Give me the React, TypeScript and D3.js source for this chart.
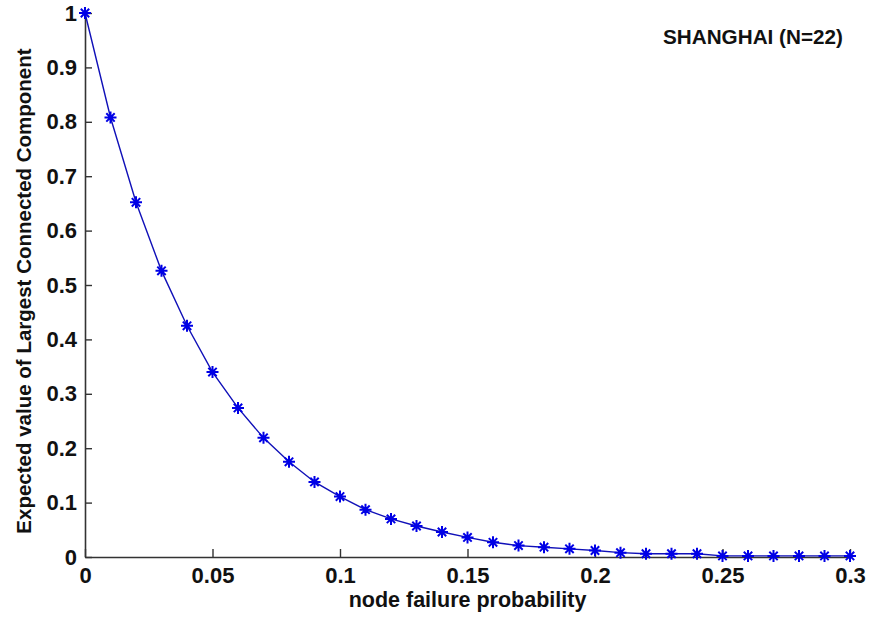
import React, { useRef, useEffect } from 'react';
import * as d3 from 'd3';

// node failure probability, step 0.01
const failureProb = [
  0, 0.01, 0.02, 0.03, 0.04, 0.05, 0.06, 0.07, 0.08, 0.09, 0.1,
  0.11, 0.12, 0.13, 0.14, 0.15, 0.16, 0.17, 0.18, 0.19, 0.2,
  0.21, 0.22, 0.23, 0.24, 0.25, 0.26, 0.27, 0.28, 0.29, 0.3,
];
// expected size of the largest connected component (fraction)
const expectedLcc = [
  1.0, 0.808, 0.652, 0.526, 0.425, 0.34, 0.274, 0.219, 0.175, 0.138, 0.111,
  0.087, 0.07, 0.057, 0.046, 0.036, 0.027, 0.021, 0.018, 0.015, 0.012,
  0.008, 0.006, 0.006, 0.006, 0.002, 0.002, 0.002, 0.002, 0.002, 0.002,
];
const xTicks = [0, 0.05, 0.1, 0.15, 0.2, 0.25, 0.3];
const xTickLabels = ['0', '0.05', '0.1', '0.15', '0.2', '0.25', '0.3'];
const yTicks = [0, 0.1, 0.2, 0.3, 0.4, 0.5, 0.6, 0.7, 0.8, 0.9, 1];
const yTickLabels = ['0', '0.1', '0.2', '0.3', '0.4', '0.5', '0.6', '0.7', '0.8', '0.9', '1'];

const title = 'SHANGHAI (N=22)';
const xLabel = 'node failure probability';
const yLabel = 'Expected value of Largest Connected Component';

const width = 872;
const height = 621;
const margin = { left: 85, right: 22, top: 13, bottom: 64 };
const font = '"Liberation Sans", Arial, sans-serif';

export default function App() {
  const svgRef = useRef<SVGSVGElement>(null);

  useEffect(() => {
    const svg = d3.select(svgRef.current);
    svg.selectAll('*').remove();

    const x = d3.scaleLinear()
      .domain([0, 0.3])
      .range([margin.left, width - margin.right]);
    const y = d3.scaleLinear()
      .domain([0, 1])
      .range([height - margin.bottom, margin.top]);

    const xAxis = d3.axisBottom(x)
      .tickValues(xTicks)
      .tickFormat((d, i) => xTickLabels[i])
      .tickSizeInner(-8)
      .tickSizeOuter(0)
      .tickPadding(10);
    const yAxis = d3.axisLeft(y)
      .tickValues(yTicks)
      .tickFormat((d, i) => yTickLabels[i])
      .tickSizeInner(-7)
      .tickSizeOuter(0)
      .tickPadding(8);

    const gx = svg.append('g')
      .attr('transform', `translate(0,${height - margin.bottom})`)
      .call(xAxis);
    const gy = svg.append('g')
      .attr('transform', `translate(${margin.left},0)`)
      .call(yAxis);

    for (const g of [gx, gy]) {
      g.select('.domain').attr('stroke', '#333').attr('stroke-width', 1.6);
      g.selectAll('.tick line').attr('stroke', '#333').attr('stroke-width', 1.4);
      g.selectAll('.tick text')
        .attr('fill', '#111')
        .style('font-family', font)
        .style('font-weight', 'bold')
        .style('font-size', '22px');
    }

    const points = failureProb.map((p, i) => [p, expectedLcc[i]] as [number, number]);

    const line = d3.line<[number, number]>()
      .x(d => x(d[0]))
      .y(d => y(d[1]));

    svg.append('path')
      .datum(points)
      .attr('d', line)
      .attr('fill', 'none')
      .attr('stroke', '#1010b8')
      .attr('stroke-width', 1.4);

    // asterisk markers
    const r = 6;
    const star = `M${-r},0H${r}M0,${-r}V${r}M${-r * 0.7},${-r * 0.7}L${r * 0.7},${r * 0.7}M${-r * 0.7},${r * 0.7}L${r * 0.7},${-r * 0.7}`;
    svg.selectAll('.marker')
      .data(points)
      .join('path')
      .attr('class', 'marker')
      .attr('transform', d => `translate(${x(d[0])},${y(d[1])})`)
      .attr('d', star)
      .attr('fill', 'none')
      .attr('stroke', '#0000e6')
      .attr('stroke-width', 2);

    svg.append('text')
      .attr('x', 663)
      .attr('y', 44)
      .attr('fill', '#111')
      .style('font-family', font)
      .style('font-weight', 'bold')
      .style('font-size', '20.7px')
      .text(title);

    svg.append('text')
      .attr('x', (margin.left + width - margin.right) / 2)
      .attr('y', 607)
      .attr('text-anchor', 'middle')
      .attr('fill', '#111')
      .style('font-family', font)
      .style('font-weight', 'bold')
      .style('font-size', '21.5px')
      .text(xLabel);

    svg.append('text')
      .attr('transform', `translate(31,291) rotate(-90)`)
      .attr('text-anchor', 'middle')
      .attr('fill', '#111')
      .style('font-family', font)
      .style('font-weight', 'bold')
      .style('font-size', '20.5px')
      .text(yLabel);
  }, []);

  return (
    <svg
      ref={svgRef}
      width={width}
      height={height}
      style={{ position: 'absolute', left: 0, top: 0, background: '#fff' }}
    />
  );
}
